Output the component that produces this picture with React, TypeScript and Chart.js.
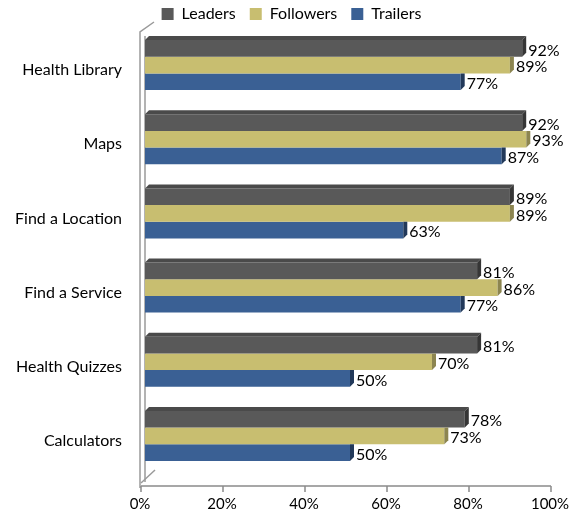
import React, { useEffect, useRef } from 'react';
import { Chart, registerables } from 'chart.js';
Chart.register(...registerables);

const categories = ['Health Library', 'Maps', 'Find a Location', 'Find a Service', 'Health Quizzes', 'Calculators'];
const seriesNames = ['Leaders', 'Followers', 'Trailers'];
const leaders = [92, 92, 89, 81, 81, 78];
const followers = [89, 93, 89, 86, 70, 73];
const trailers = [77, 87, 63, 77, 50, 50];
const xTickValues = [0, 20, 40, 60, 80, 100];

const FONT = 'Lato, "Liberation Sans", sans-serif';
const frontColors = ['#595959', '#C8BE70', '#3A6094'];
const sideColors = ['#363636', '#8C8550', '#22395A'];
const topColors = ['#4A4A4A', '#A49C5C', '#2C4A72'];

const threeD = {
  id: 'threeD',
  afterDatasetsDraw(chart: any) {
    const ctx = chart.ctx;
    const d = 4;
    ctx.save();
    chart.data.datasets.forEach((ds: any, i: number) => {
      const meta = chart.getDatasetMeta(i);
      meta.data.forEach((bar: any) => {
        const { x, y, base, height } = bar.getProps(['x', 'y', 'base', 'height'], true);
        const top = y - height / 2;
        const bottom = y + height / 2;
        if (i === 0) {
          ctx.fillStyle = topColors[i];
          ctx.beginPath();
          ctx.moveTo(base, top);
          ctx.lineTo(base + d, top - d);
          ctx.lineTo(x + d, top - d);
          ctx.lineTo(x, top);
          ctx.closePath();
          ctx.fill();
        }
        ctx.fillStyle = sideColors[i];
        ctx.beginPath();
        ctx.moveTo(x, top);
        ctx.lineTo(x + d, i === 0 ? top - d : top);
        ctx.lineTo(x + d, bottom - d);
        ctx.lineTo(x, bottom);
        ctx.closePath();
        ctx.fill();
      });
    });
    ctx.fillStyle = '#000';
    ctx.font = '16px ' + FONT;
    ctx.textAlign = 'left';
    ctx.textBaseline = 'middle';
    chart.data.datasets.forEach((ds: any, i: number) => {
      const meta = chart.getDatasetMeta(i);
      meta.data.forEach((bar: any, j: number) => {
        const { x, y } = bar.getProps(['x', 'y'], true);
        ctx.fillText(ds.data[j] + '%', x + d + 2, y + 2);
      });
    });
    ctx.restore();
  },
};

const axisDecor = {
  id: 'axisDecor',
  afterLayout(chart: any) {
    if (chart.legend) chart.legend.left += 20;
  },
  beforeDatasetsDraw(chart: any) {
    const ctx = chart.ctx;
    const xs = chart.scales.x;
    const area = chart.chartArea;
    const axisY = area.bottom + 13;
    const x0 = xs.getPixelForValue(0) - 4;
    const x1 = xs.getPixelForValue(100) - 4;
    ctx.save();
    ctx.strokeStyle = '#9A9A9A';
    ctx.lineWidth = 1.5;
    ctx.beginPath();
    ctx.moveTo(x0 - 1, axisY + 2);
    ctx.lineTo(x0 - 1, area.top + 4);
    ctx.lineTo(x0 + 13, area.top - 6);
    ctx.stroke();
    ctx.beginPath();
    ctx.moveTo(x0 + 4, area.top + 8);
    ctx.lineTo(x0 + 4, axisY - 4);
    ctx.stroke();
    ctx.beginPath();
    ctx.moveTo(x0, axisY - 3);
    ctx.lineTo(x0 + 14, axisY - 16);
    ctx.stroke();
    ctx.strokeStyle = '#8A8A8A';
    ctx.lineWidth = 1.5;
    ctx.beginPath();
    ctx.moveTo(x0, axisY);
    ctx.lineTo(x1, axisY);
    ctx.stroke();
    xTickValues.forEach((v) => {
      const px = xs.getPixelForValue(v) - 4;
      ctx.beginPath();
      ctx.moveTo(px, axisY);
      ctx.lineTo(px, axisY + 6);
      ctx.stroke();
    });
    ctx.restore();
  },
};

export default function App() {
  const ref = useRef<HTMLCanvasElement>(null);
  useEffect(() => {
    const chart = new Chart(ref.current!, {
      type: 'bar',
      data: {
        labels: categories,
        datasets: [leaders, followers, trailers].map((d, i) => ({
          label: seriesNames[i],
          data: d,
          backgroundColor: frontColors[i],
          borderWidth: 0,
          categoryPercentage: 0.675,
          barPercentage: 1,
        })),
      },
      options: {
        indexAxis: 'y',
        animation: false,
        responsive: false,
        maintainAspectRatio: false,
        layout: { padding: { left: 0, right: 16, top: 8, bottom: 0 } },
        plugins: {
          tooltip: { enabled: false },
          legend: {
            position: 'top',
            maxHeight: 36,
            labels: {
              boxWidth: 12,
              boxHeight: 12,
              padding: 14,
              color: '#000',
              font: { family: FONT, size: 16 },
            },
          },
        },
        scales: {
          x: {
            min: 0,
            max: 100,
            grid: { display: false, drawTicks: false },
            border: { display: false },
            ticks: {
              stepSize: 20,
              callback: (v: any) => v + '%',
              color: '#000',
              font: { family: FONT, size: 15 },
              padding: 22,
              labelOffset: -5,
            },
            afterFit: (s: any) => {
              s.paddingLeft = 0;
              s.paddingRight = 0;
              s.height = 36;
            },
          },
          y: {
            grid: { display: false, drawTicks: false },
            border: { display: false },
            ticks: {
              color: '#000',
              font: { family: FONT, size: 16 },
              padding: 23,
              labelOffset: 5,
            },
            afterFit: (s: any) => {
              s.width = 137;
            },
          },
        },
      },
      plugins: [axisDecor, threeD],
    });
    return () => chart.destroy();
  }, []);
  return (
    <div style={{ position: 'absolute', left: 8, top: -16, width: 563, height: 525 }}>
      <canvas ref={ref} width={563} height={525} style={{ width: 563, height: 525 }} />
    </div>
  );
}
